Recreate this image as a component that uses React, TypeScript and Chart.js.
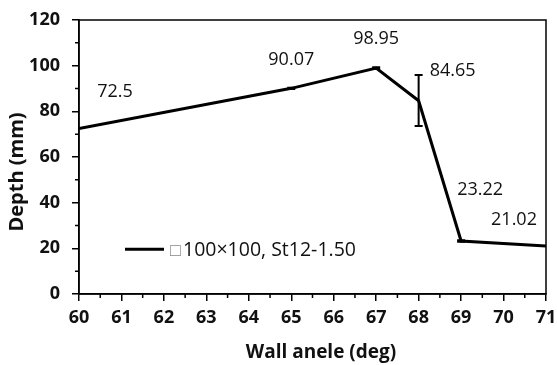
import React, { useEffect, useRef } from "react";
import { Chart, registerables } from "chart.js";

Chart.register(...registerables);

const angles = [60, 65, 67, 68, 69, 71];
const depths = [72.5, 90.07, 98.95, 84.65, 23.22, 21.02];
const errLow = [72.5, 89.8, 98.6, 73.6, 22.9, 21.02];
const errHigh = [72.5, 90.3, 99.3, 95.9, 23.5, 21.02];
const valueLabels = ["72.5", "90.07", "98.95", "84.65", "23.22", "21.02"];
const seriesName = "100×100, St12-1.50";
const seriesMark = "□";
const xTitle = "Wall anele (deg)";
const yTitle = "Depth (mm)";

const labelOffsets = [
  [36, -37],
  [0, -28],
  [0, -29],
  [34, -30],
  [19, -51],
  [-32, -26],
];

const FONT = "'Open Sans', sans-serif";

const decorPlugin = {
  id: "decor",
  afterDatasetsDraw(chart: any) {
    const ctx = chart.ctx;
    const x = chart.scales.x;
    const y = chart.scales.y;
    const a = chart.chartArea;
    ctx.save();
    // border box
    ctx.strokeStyle = "#000";
    ctx.lineWidth = 1.5;
    ctx.strokeRect(a.left, a.top, a.right - a.left, a.bottom - a.top);
    // minor ticks
    ctx.beginPath();
    for (let v = 60.5; v < 71; v += 1) {
      const px = x.getPixelForValue(v);
      ctx.moveTo(px, a.bottom);
      ctx.lineTo(px, a.bottom + 4);
    }
    for (let v = 10; v < 120; v += 20) {
      const py = y.getPixelForValue(v);
      ctx.moveTo(a.left, py);
      ctx.lineTo(a.left - 4, py);
    }
    ctx.stroke();
    // error bars
    ctx.lineWidth = 2;
    ctx.beginPath();
    angles.forEach((ang, i) => {
      if (errHigh[i] - errLow[i] <= 0) return;
      const px = x.getPixelForValue(ang);
      const lo = y.getPixelForValue(errLow[i]);
      const hi = y.getPixelForValue(errHigh[i]);
      ctx.moveTo(px, lo);
      ctx.lineTo(px, hi);
      ctx.moveTo(px - 4, lo);
      ctx.lineTo(px + 4, lo);
      ctx.moveTo(px - 4, hi);
      ctx.lineTo(px + 4, hi);
    });
    ctx.stroke();
    // value labels
    ctx.fillStyle = "#111";
    ctx.font = `18px ${FONT}`;
    ctx.textAlign = "center";
    ctx.textBaseline = "middle";
    angles.forEach((ang, i) => {
      const px = x.getPixelForValue(ang);
      const py = y.getPixelForValue(depths[i]);
      ctx.fillText(valueLabels[i], px + labelOffsets[i][0], py + labelOffsets[i][1]);
    });
    // legend
    const ly = y.getPixelForValue(20);
    ctx.strokeStyle = "#000";
    ctx.lineWidth = 3;
    ctx.beginPath();
    ctx.moveTo(125, ly + 1);
    ctx.lineTo(164, ly + 1);
    ctx.stroke();
    ctx.textAlign = "left";
    ctx.fillStyle = "#888";
    ctx.font = `18px ${FONT}`;
    ctx.fillText(seriesMark, 170, ly + 3);
    ctx.fillStyle = "#111";
    ctx.font = `19.5px ${FONT}`;
    ctx.fillText(seriesName, 183, ly + 2);
    // axis titles
    ctx.font = `bold 19px ${FONT}`;
    ctx.textAlign = "center";
    ctx.fillText(xTitle, 321, 353);
    ctx.translate(17, 172);
    ctx.rotate(-Math.PI / 2);
    ctx.font = `bold 20px ${FONT}`;
    ctx.fillText(yTitle, 0, 0);
    ctx.restore();
  },
};

export default function App() {
  const ref = useRef<HTMLCanvasElement>(null);
  useEffect(() => {
    document.body.style.margin = "0";
    const chart = new Chart(ref.current!, {
      type: "line",
      data: {
        datasets: [
          {
            label: seriesName,
            data: angles.map((a, i) => ({ x: a, y: depths[i] })),
            borderColor: "#000",
            borderWidth: 3,
            pointRadius: 0,
            tension: 0,
            fill: false,
          },
        ],
      },
      options: {
        animation: false,
        responsive: false,
        layout: { padding: { left: 0, right: 11, top: 20, bottom: 0 } },
        plugins: { legend: { display: false }, tooltip: { enabled: false } },
        scales: {
          x: {
            type: "linear",
            min: 60,
            max: 71,
            afterFit: (s: any) => {
              s.height = 71;
              s.paddingLeft = 0;
              s.paddingRight = 0;
            },
            ticks: {
              stepSize: 1,
              color: "#111",
              font: { family: FONT, size: 18, weight: "bold" },
              padding: 6,
              maxRotation: 0,
            },
            grid: {
              drawOnChartArea: false,
              drawTicks: true,
              tickLength: 7,
              color: "#000",
              lineWidth: 1.5,
            },
            border: { color: "#000", width: 1.5 },
          },
          y: {
            min: 0,
            max: 120,
            afterFit: (s: any) => {
              s.width = 79;
              s.paddingTop = 0;
              s.paddingBottom = 0;
            },
            ticks: {
              stepSize: 20,
              color: "#111",
              font: { family: FONT, size: 18, weight: "bold" },
              padding: 12,
            },
            grid: {
              drawOnChartArea: false,
              drawTicks: true,
              tickLength: 7,
              color: "#000",
              lineWidth: 1.5,
            },
            border: { color: "#000", width: 1.5 },
          },
        },
      } as any,
      plugins: [decorPlugin],
    });
    return () => chart.destroy();
  }, []);
  return (
    <div style={{ position: "absolute", left: 0, top: 0, width: 557, height: 365 }}>
      <canvas ref={ref} width={557} height={365} style={{ width: 557, height: 365 }} />
    </div>
  );
}
